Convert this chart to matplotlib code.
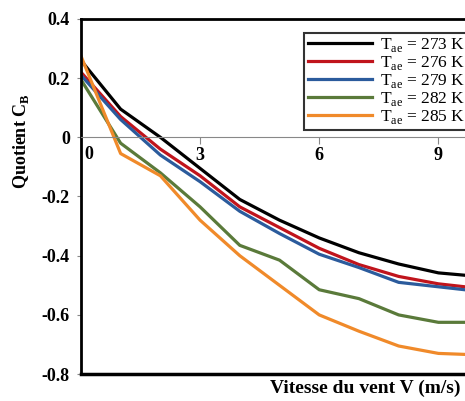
import numpy as np
import matplotlib.pyplot as plt

plt.rcParams['font.family'] = ['Liberation Serif', 'DejaVu Serif']
plt.rcParams['mathtext.fontset'] = 'custom'
plt.rcParams['mathtext.rm'] = 'Liberation Serif'
plt.rcParams['mathtext.bf'] = 'Liberation Serif:bold'

# vitesse du vent (m/s)
V = [0, 1, 2, 3, 4, 5, 6, 7, 8, 9, 10]

cb_273 = [0.26, 0.095, 0.0, -0.105, -0.21, -0.28, -0.34, -0.39, -0.428, -0.458, -0.47]
cb_276 = [0.22, 0.07, -0.04, -0.13, -0.235, -0.305, -0.375, -0.43, -0.47, -0.495, -0.51]
cb_279 = [0.21, 0.06, -0.06, -0.15, -0.25, -0.325, -0.395, -0.44, -0.49, -0.505, -0.52]
cb_282 = [0.195, -0.02, -0.12, -0.235, -0.365, -0.415, -0.515, -0.545, -0.6, -0.625, -0.625]
cb_285 = [0.275, -0.055, -0.13, -0.28, -0.40, -0.50, -0.60, -0.655, -0.705, -0.73, -0.735]

temps = [273, 276, 279, 282, 285]
colors = ['#000000', '#c0141c', '#2b5b9c', '#5a7a3a', '#f08a2a']
series = [cb_273, cb_276, cb_279, cb_282, cb_285]

fig = plt.figure(figsize=(4.65, 4.01), dpi=100)
ax = fig.add_axes([0.174, 0.067, 0.826, 0.886])

for t, c, y in zip(temps, colors, series):
    ax.plot(V, y, color=c, lw=2.3, label=r'T$_{\mathrm{ae}}$ = %d K' % t)

ax.set_xlim(0, 9.67)
ax.set_ylim(-0.8, 0.4)

ax.spines['right'].set_visible(False)
ax.spines['left'].set_linewidth(2)
ax.spines['top'].set_linewidth(2)
ax.spines['bottom'].set_position(('data', 0))
ax.spines['bottom'].set_color('#888888')
ax.spines['bottom'].set_linewidth(0.8)
ax.axhline(-0.8, color='black', lw=2.5, clip_on=False)

ax.set_xticks([3, 6, 9])
ax.set_xticklabels(['3', '6', '9'], fontweight='bold', fontsize=13)
ax.tick_params(axis='x', direction='out', length=5, color='#888888', pad=2)
ax.text(0.2, -0.03, '0', fontweight='bold', fontsize=13, ha='center', va='top')

ax.set_yticks([-0.8, -0.6, -0.4, -0.2, 0, 0.2, 0.4])
ax.set_yticklabels(['-0.8', '-0.6', '-0.4', '-0.2', '0', '0.2', '0.4'],
                   fontweight='bold', fontsize=13)
ax.tick_params(axis='y', direction='out', length=3, color='#888888', pad=5)

fig.text(21 / 465, 1 - 141 / 401, r'Quotient C$_{\mathbf{B}}$', fontweight='bold',
         fontsize=13, rotation=90, ha='center', va='center')
fig.text(0.99, 0.01, 'Vitesse du vent V (m/s)', fontweight='bold', fontsize=14,
         ha='right', va='bottom')

# legend box runs past the right edge of the figure
leg = ax.legend(loc='upper right', bbox_to_anchor=(1.01, 0.961), fontsize=12.5,
                frameon=True, fancybox=False, edgecolor='black',
                handlelength=3.7, handletextpad=0.45, labelspacing=0.0,
                borderpad=0.2, borderaxespad=0.0)
leg.get_frame().set_linewidth(1.5)

fig.savefig('out.png', dpi=100)
